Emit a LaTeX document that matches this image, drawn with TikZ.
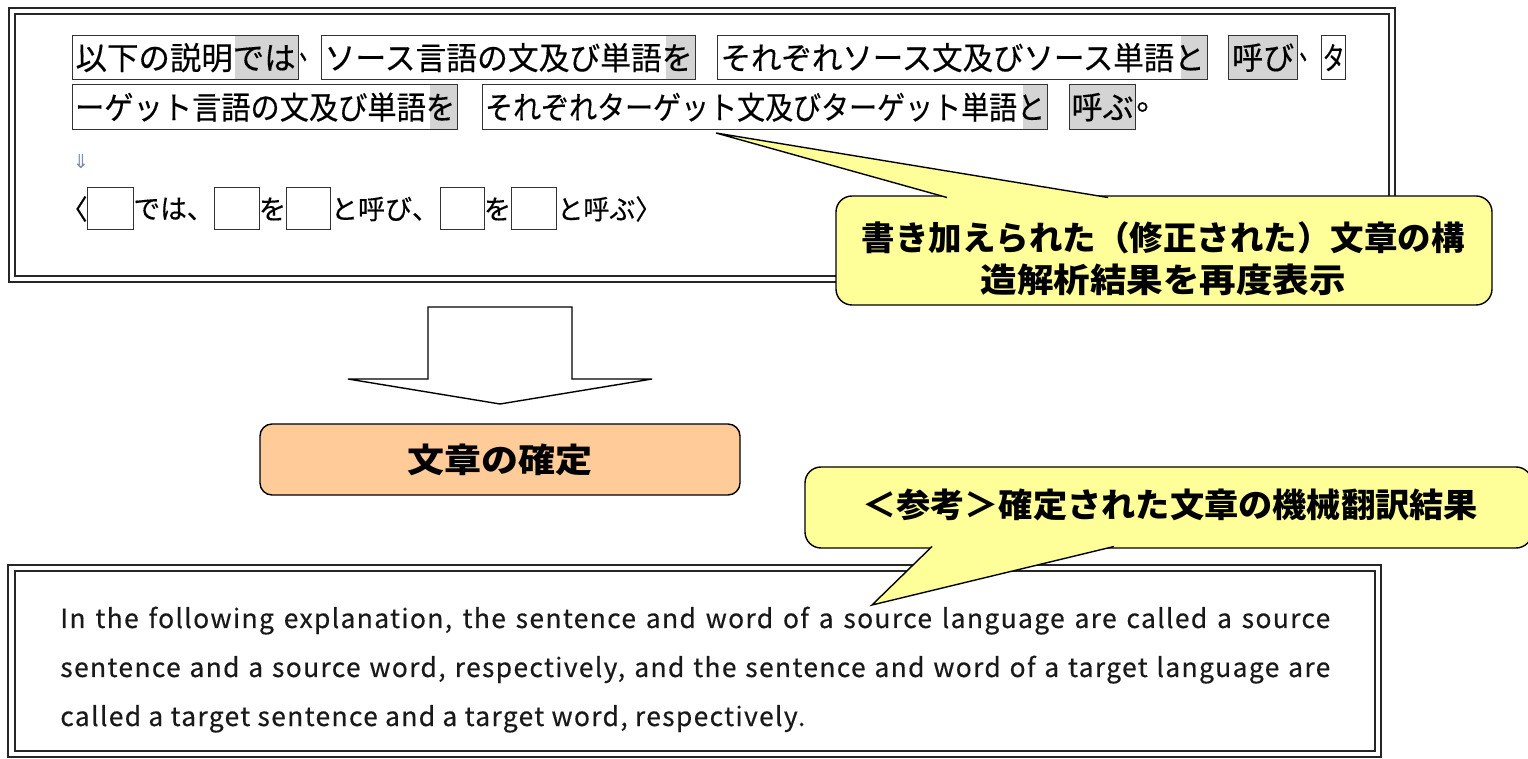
\documentclass[tikz,border=0pt]{standalone}
\usepackage{fontspec}
\usepackage{graphicx}
\newfontfamily\jp{Noto Sans CJK JP}[RawFeature={embolden=0.4}]
\newfontfamily\jpb{Noto Sans CJK JP}
\newfontfamily\en{Noto Sans CJK JP}[LetterSpace=5,RawFeature={embolden=0.4}]
\newfontfamily\dejavu{DejaVu Sans}
\definecolor{hl}{RGB}{212,212,212}
\definecolor{callout}{RGB}{255,255,153}
\definecolor{orangebox}{RGB}{255,204,153}
\definecolor{arrowblue}{RGB}{120,140,170}
\newlength\px \setlength\px{0.02cm}
\newlength\lthree
\newcommand\fitw[2]{\resizebox{#1\px}{\height}{#2}}
\begin{document}
\settowidth\lthree{\en\fontsize{15}{17}\selectfont called a target sentence and a target word, respectively.}%
\pgfmathsetmacro\sx{(745*0.02cm)/\lthree}%
\pgfmathsetlengthmacro\wfull{(1270*0.02cm)/\sx}%
\begin{tikzpicture}[x=0.02cm, y=-0.02cm,
  frameo/.style={draw=black!85, line width=0.9pt},
  framei/.style={draw=black!85, line width=0.7pt},
  jb/.style 2 args={draw=black!80, line width=0.7pt, inner sep=0pt, anchor=north west,
     minimum width=#1*0.02cm, minimum height=#2*0.02cm, font=\jp\fontsize{18}{20}\selectfont},
  jt/.style={inner sep=0pt, font=\jp\fontsize{18}{20}\selectfont},
  st/.style={inner sep=0pt, font=\jp\fontsize{15.5}{18}\selectfont},
  callbox/.style={draw=black, line width=0.8pt, fill=callout, rounded corners=0.32cm, inner sep=0pt},
  ct/.style={inner sep=0pt, font=\jpb\bfseries\fontsize{19}{22}\selectfont},
  ent/.style={inner sep=0pt, anchor=base west, text=black!90, font=\en\fontsize{15}{17}\selectfont}]
\useasboundingbox (0,0) rectangle (1528,759);

% top double frame
\draw[frameo] (9,8) rectangle (1395,282);
\draw[framei] (15,14) rectangle (1389,276);

% line 1
\fill[hl] (235,35) rectangle (298,79);
\node[jb={226}{44}] (b1) at (72,35) {\fitw{220}{以下の説明では}};
\node[jt, anchor=west] (c1) at (299,57) {\fitw{20}{、}};
\fill[hl] (666,35) rectangle (695,79);
\node[jb={374}{44}] (b2) at (321,35) {\fitw{368}{ソース言語の文及び単語を}};
\fill[hl] (1181,35) rectangle (1207,79);
\node[jb={490}{44}] (b3) at (717,35) {\fitw{484}{それぞれソース文及びソース単語と}};
\fill[hl] (1228,35) rectangle (1297,79);
\node[jb={69}{44}] (b4) at (1228,35) {\fitw{62}{呼び}};
\node[jt, anchor=west] (c2) at (1299,57) {\fitw{20}{、}};
\node[jb={24}{44}] (b5) at (1321,35) {\fitw{22}{タ}};

% line 2
\fill[hl] (430,84) rectangle (457,129);
\node[jb={385}{45}] (b6) at (72,84) {\fitw{380}{ーゲット言語の文及び単語を}};
\fill[hl] (1023,84) rectangle (1047,129);
\node[jb={565}{45}] (b7) at (482,84) {\fitw{560}{それぞれターゲット文及びターゲット単語と}};
\fill[hl] (1069,84) rectangle (1135,129);
\node[jb={66}{45}] (b8) at (1069,84) {\fitw{62}{呼ぶ}};
\node[jt, anchor=west] (c3) at (1136,107) {。};

% down arrow symbol
\node[inner sep=0pt, text=arrowblue, font=\dejavu\fontsize{11}{11}\selectfont] (dn) at (81,161) {⇓};

% line 3
\node[st, anchor=east] (l0) at (88,209) {〈};
\node[jb={46}{42}] (q1) at (87,187) {};
\node[st] (l1) at (173.5,209) {\fitw{80}{では、}};
\node[jb={45}{42}] (q2) at (214,187) {};
\node[st] (l2) at (272.5,209) {を};
\node[jb={44}{42}] (q3) at (286,187) {};
\node[st] (l3) at (385,209) {\fitw{108}{と呼び、}};
\node[jb={44}{42}] (q4) at (440,187) {};
\node[st] (l4) at (497.5,209) {を};
\node[jb={45}{42}] (q5) at (511,187) {};
\node[st, anchor=west] (l5) at (557,209) {\fitw{104}{と呼ぶ〉}};

% callout 1
\node[callbox, minimum width=656*0.02cm, minimum height=109*0.02cm] (k1) at (1164,250.5) {};
\coordinate (t1) at (716,133);
\coordinate (k1a) at (947,197.5);
\coordinate (k1b) at (1108,197.5);
\fill[callout] (k1a) -- (t1) -- (k1b) -- cycle;
\draw[line width=0.8pt] (k1a) -- (t1) -- (k1b);
\node[ct] (k1l1) at (1163,238) {\fitw{603}{書き加えられた（修正された）文章の構}};
\node[ct] (k1l2) at (1163,280) {\fitw{365}{造解析結果を再度表示}};

% block arrow
\draw[line width=0.8pt, fill=white] (428,307) -- (572,307) -- (572,379) -- (652,379)
  -- (500,404) -- (348,379) -- (428,379) -- cycle;

% decision box
\node[draw=black, line width=0.8pt, fill=orangebox, rounded corners=0.24cm,
  minimum width=480*0.02cm, minimum height=71*0.02cm, inner sep=0pt,
  font=\jpb\bfseries\fontsize{19}{22}\selectfont] (fix) at (500,459.5) {\fitw{185}{文章の確定}};

% bottom double frame
\draw[frameo] (8,565) rectangle (1381,757);
\draw[framei] (15,571) rectangle (1375,751);

% english text
\node[ent] (e1) at (60,628) {\scalebox{\sx}[1]{\makebox[\wfull][s]{In the following explanation, the sentence and word of a source language are called a source}}};
\node[ent] (e2) at (60,677) {\scalebox{\sx}[1]{\makebox[\wfull][s]{sentence and a source word, respectively, and the sentence and word of a target language are}}};
\node[ent] (e3) at (60,726) {\scalebox{\sx}[1]{called a target sentence and a target word, respectively.}};

% callout 2
\node[callbox, minimum width=727*0.02cm, minimum height=81*0.02cm] (k2) at (1168.5,507.5) {};
\coordinate (t2) at (872,605);
\coordinate (k2a) at (932,546.5);
\coordinate (k2b) at (1114,546.5);
\fill[callout] (k2a) -- (t2) -- (k2b) -- cycle;
\draw[line width=0.8pt] (k2a) -- (t2) -- (k2b);
\node[ct] (k2l) at (1170,505) {\fitw{616}{＜参考＞確定された文章の機械翻訳結果}};
\end{tikzpicture}
\end{document}
